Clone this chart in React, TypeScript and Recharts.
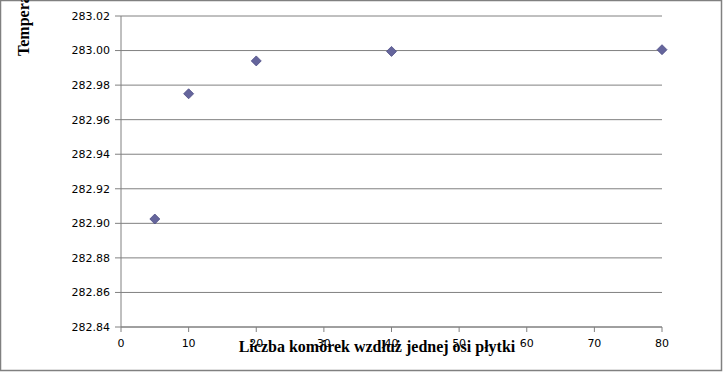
import { ScatterChart, Scatter, XAxis, YAxis, CartesianGrid } from 'recharts'

const cellCounts = [5, 10, 20, 40, 80]
const temperatures = [282.9025, 282.975, 282.994, 282.9995, 283.0005]
const xTicks = [0, 10, 20, 30, 40, 50, 60, 70, 80]
const yTicks = [282.84, 282.86, 282.88, 282.9, 282.92, 282.94, 282.96, 282.98, 283.0, 283.02]

const data = cellCounts.map((n, i) => ({ n, t: temperatures[i] }))

const GRAY = '#808080'
const tickStyle = { fontFamily: 'DejaVu Sans', fontSize: 11, fill: '#000' }

function Diamond(props: any) {
  const { cx, cy } = props
  if (cx == null || cy == null) return null
  const r = 5
  return (
    <polygon
      points={`${cx},${cy - r} ${cx + r},${cy} ${cx},${cy + r} ${cx - r},${cy}`}
      fill="#65659c"
      stroke="#4d4d85"
      strokeWidth={0.8}
    />
  )
}

export default function App() {
  return (
    <div style={{ position: 'absolute', left: 0, top: 0, width: 723, height: 372, background: '#fff' }}>
      <ScatterChart width={723} height={372} margin={{ top: 16, right: 61, bottom: 15, left: 61 }}>
        <rect x={0.5} y={0.5} width={721} height={370} fill="none" stroke={GRAY} strokeWidth={1.5} />
        <CartesianGrid vertical={false} stroke={GRAY} strokeWidth={1} />
        <XAxis
          type="number"
          dataKey="n"
          domain={[0, 80]}
          ticks={xTicks}
          height={30}
          stroke={GRAY}
          tickSize={5}
          tickMargin={7}
          tick={tickStyle}
          interval={0}
        />
        <YAxis
          type="number"
          dataKey="t"
          domain={[282.84, 283.02]}
          ticks={yTicks}
          width={60}
          stroke={GRAY}
          tickSize={6}
          tickMargin={5}
          tick={tickStyle}
          interval={0}
          tickFormatter={(v: number) => v.toFixed(2)}
        />
        <Scatter data={data} shape={Diamond} isAnimationActive={false} />
        <text
          x={377}
          y={352}
          textAnchor="middle"
          fontFamily="Liberation Serif"
          fontWeight="bold"
          fontSize={16}
          fill="#000"
        >
          Liczba komórek wzdłuż jednej osi płytki
        </text>
        <text
          x={29}
          y={56}
          transform="rotate(-90 29 56)"
          textAnchor="start"
          fontFamily="Liberation Serif"
          fontWeight="bold"
          fontSize={16}
          fill="#000"
        >
          Temperatura [K]
        </text>
      </ScatterChart>
    </div>
  )
}
